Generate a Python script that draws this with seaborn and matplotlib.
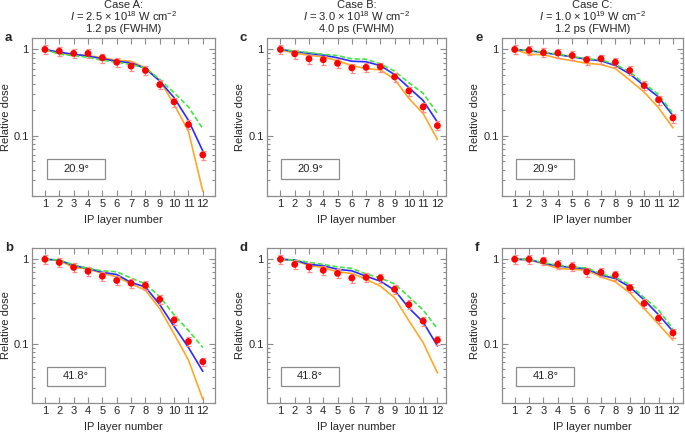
import numpy as np
import pandas as pd
import matplotlib
matplotlib.use("Agg")
import matplotlib.pyplot as plt
import seaborn as sns
from matplotlib.patches import Rectangle
from matplotlib.ticker import LogLocator, NullFormatter, FixedLocator, FixedFormatter

# ---------------- data ----------------
layers = list(range(1, 13))

# panel a: Case A, 20.9 deg
a_meas = [1.0, 0.955, 0.90, 0.90, 0.80, 0.71, 0.64, 0.57, 0.39, 0.246, 0.134, 0.0595]
a_blue = [1.0, 0.93, 0.88, 0.84, 0.78, 0.73, 0.70, 0.60, 0.43, 0.275, 0.15, 0.066]
a_orange = [1.0, 0.90, 0.87, 0.85, 0.80, 0.75, 0.73, 0.61, 0.44, 0.23, 0.112, 0.0225]
a_green = [1.0, 0.88, 0.85, 0.81, 0.75, 0.71, 0.67, 0.61, 0.45, 0.314, 0.215, 0.12]

# panel b: Case A, 41.8 deg
b_meas = [1.0, 0.915, 0.80, 0.72, 0.63, 0.56, 0.52, 0.49, 0.335, 0.19, 0.106, 0.061]
b_blue = [1.0, 0.98, 0.84, 0.78, 0.70, 0.66, 0.53, 0.47, 0.29, 0.16, 0.09, 0.047]
b_orange = [1.0, 0.97, 0.80, 0.77, 0.68, 0.62, 0.51, 0.43, 0.26, 0.13, 0.064, 0.022]
b_green = [1.0, 0.98, 0.86, 0.78, 0.73, 0.71, 0.60, 0.51, 0.36, 0.22, 0.143, 0.09]

# panel c: Case B, 20.9 deg
c_meas = [1.0, 0.89, 0.78, 0.76, 0.69, 0.61, 0.62, 0.63, 0.48, 0.33, 0.215, 0.13]
c_blue = [1.0, 0.95, 0.90, 0.86, 0.80, 0.73, 0.72, 0.65, 0.51, 0.36, 0.255, 0.143]
c_orange = [1.0, 0.90, 0.86, 0.82, 0.74, 0.65, 0.60, 0.58, 0.45, 0.27, 0.18, 0.09]
c_green = [1.0, 0.96, 0.92, 0.88, 0.85, 0.78, 0.77, 0.68, 0.56, 0.41, 0.31, 0.18]

# panel d: Case B, 41.8 deg
d_meas = [1.0, 0.87, 0.81, 0.74, 0.68, 0.60, 0.61, 0.60, 0.44, 0.29, 0.185, 0.11]
d_blue = [1.0, 0.98, 0.87, 0.84, 0.76, 0.73, 0.63, 0.55, 0.43, 0.265, 0.18, 0.094]
d_orange = [1.0, 0.97, 0.84, 0.80, 0.71, 0.68, 0.58, 0.48, 0.35, 0.187, 0.103, 0.045]
d_green = [1.0, 0.98, 0.92, 0.87, 0.81, 0.78, 0.67, 0.60, 0.51, 0.36, 0.25, 0.15]

# panel e: Case C, 20.9 deg
e_meas = [1.0, 0.98, 0.92, 0.91, 0.85, 0.76, 0.78, 0.71, 0.57, 0.38, 0.26, 0.16]
e_blue = [1.0, 0.97, 0.92, 0.87, 0.82, 0.77, 0.74, 0.65, 0.52, 0.38, 0.28, 0.17]
e_orange = [1.0, 0.88, 0.87, 0.79, 0.74, 0.69, 0.67, 0.60, 0.44, 0.32, 0.21, 0.123]
e_green = [1.0, 0.98, 0.93, 0.88, 0.83, 0.78, 0.76, 0.67, 0.55, 0.40, 0.30, 0.18]

# panel f: Case C, 41.8 deg
f_meas = [1.0, 1.0, 0.96, 0.87, 0.82, 0.71, 0.70, 0.65, 0.46, 0.30, 0.20, 0.134]
f_blue = [1.0, 0.99, 0.90, 0.83, 0.80, 0.77, 0.65, 0.59, 0.47, 0.33, 0.22, 0.14]
f_orange = [1.0, 0.99, 0.88, 0.78, 0.76, 0.74, 0.62, 0.54, 0.40, 0.26, 0.17, 0.11]
f_green = [1.0, 1.0, 0.91, 0.85, 0.81, 0.79, 0.67, 0.61, 0.50, 0.35, 0.25, 0.15]

rel_err = 0.12

title_lines = [
    ["Case A:", "$I$ = 2.5 × 10$^{18}$ W cm$^{-2}$", "1.2 ps (FWHM)"],
    ["Case B:", "$I$ = 3.0 × 10$^{18}$ W cm$^{-2}$", "4.0 ps (FWHM)"],
    ["Case C:", "$I$ = 1.0 × 10$^{19}$ W cm$^{-2}$", "1.2 ps (FWHM)"],
]
angles = ["20.9°", "41.8°"]
letters = [["a", "b"], ["c", "d"], ["e", "f"]]

panels = [
    [(a_meas, a_blue, a_orange, a_green), (b_meas, b_blue, b_orange, b_green)],
    [(c_meas, c_blue, c_orange, c_green), (d_meas, d_blue, d_orange, d_green)],
    [(e_meas, e_blue, e_orange, e_green), (f_meas, f_blue, f_orange, f_green)],
]

# ---------------- style ----------------
sns.set_theme(style="ticks")
plt.rcParams["font.family"] = ["Liberation Sans", "DejaVu Sans"]
plt.rcParams["mathtext.fontset"] = "custom"
plt.rcParams["mathtext.rm"] = "Liberation Sans"
plt.rcParams["mathtext.it"] = "Liberation Sans:italic"
plt.rcParams["mathtext.bf"] = "Liberation Sans:bold"

GRAY = "#8c8c8c"
BLUE = "#2b2bff"
ORANGE = "#ffa726"
GREEN = "#3ee63e"
RED = "#ff0000"
PINK = "#ff8a8a"

W, H = 685, 434
fig = plt.figure(figsize=(W / 100, H / 100), dpi=100)

col_left = [32, 267, 502]
col_w = [183, 179, 181]
col_xlim = [(0.1, 12.85), (0.06, 12.6), (0.12, 12.7)]
row_top = [38, 248]
row_h = [158, 155]
title_baselines = [8, 20.8, 32.3]

for ci in range(3):
    for ri in range(2):
        l, t = col_left[ci], row_top[ri]
        aw, ah = col_w[ci], row_h[ri]
        ax = fig.add_axes([l / W, 1 - (t + ah) / H, aw / W, ah / H])
        meas, blue, orange, green = panels[ci][ri]
        df = pd.DataFrame({"layer": layers, "meas": meas, "blue": blue,
                           "orange": orange, "green": green})
        sns.lineplot(data=df, x="layer", y="orange", ax=ax, color=ORANGE, lw=1.2, legend=False)
        sns.lineplot(data=df, x="layer", y="blue", ax=ax, color=BLUE, lw=1.2, legend=False)
        sns.lineplot(data=df, x="layer", y="green", ax=ax, color=GREEN, lw=1.2,
                     linestyle=(0, (3, 1.5)), legend=False)
        ax.errorbar(df["layer"], df["meas"], yerr=rel_err * df["meas"], fmt="none",
                    ecolor=PINK, elinewidth=0.9, capsize=1.8, capthick=0.9, zorder=3)
        sns.scatterplot(data=df, x="layer", y="meas", ax=ax, color=RED, s=24,
                        edgecolor="none", zorder=4, legend=False)

        ax.set_yscale("log")
        ax.set_ylim(0.0198, 1.36)
        ax.set_xlim(*col_xlim[ci])
        ax.set_xticks(layers)
        ax.set_xticklabels([str(v) for v in layers])
        ax.yaxis.set_major_locator(FixedLocator([0.1, 1]))
        ax.yaxis.set_major_formatter(FixedFormatter(["0.1", "1"]))
        ax.yaxis.set_minor_locator(LogLocator(base=10, subs=np.arange(2, 10)))
        ax.yaxis.set_minor_formatter(NullFormatter())
        ax.tick_params(axis="both", which="both", direction="in", top=True, right=True,
                       color=GRAY, labelsize=8, width=0.8)
        ax.tick_params(axis="both", which="major", length=4, pad=2.5)
        ax.tick_params(axis="y", which="minor", length=2.5)
        for s in ax.spines.values():
            s.set_color(GRAY)
            s.set_linewidth(0.9)
        ax.set_xlabel("IP layer number", fontsize=8, labelpad=4)
        ax.set_ylabel("Relative dose", fontsize=8, va="center")
        lab_x_px = max(l - 27, 6)
        ax.yaxis.set_label_coords((lab_x_px - l) / aw, 0.5)
        if ri == 0:
            cx = (l + aw / 2) / W
            for line, yb in zip(title_lines[ci], title_baselines):
                fig.text(cx, 1 - yb / H, line, fontsize=8, ha="center", va="baseline")
        ax.add_patch(Rectangle((0.08, 0.11), 0.32, 0.125, transform=ax.transAxes,
                               fill=False, edgecolor=GRAY, lw=0.9, zorder=5))
        ax.text(0.24, 0.1725, angles[ri], transform=ax.transAxes, ha="center",
                va="center", fontsize=8, zorder=6)
        fig.text((l - 27) / W, 1 - t / H, letters[ci][ri], fontsize=9.5,
                 fontweight="bold", ha="left", va="center")

fig.savefig("out.png", dpi=100)
